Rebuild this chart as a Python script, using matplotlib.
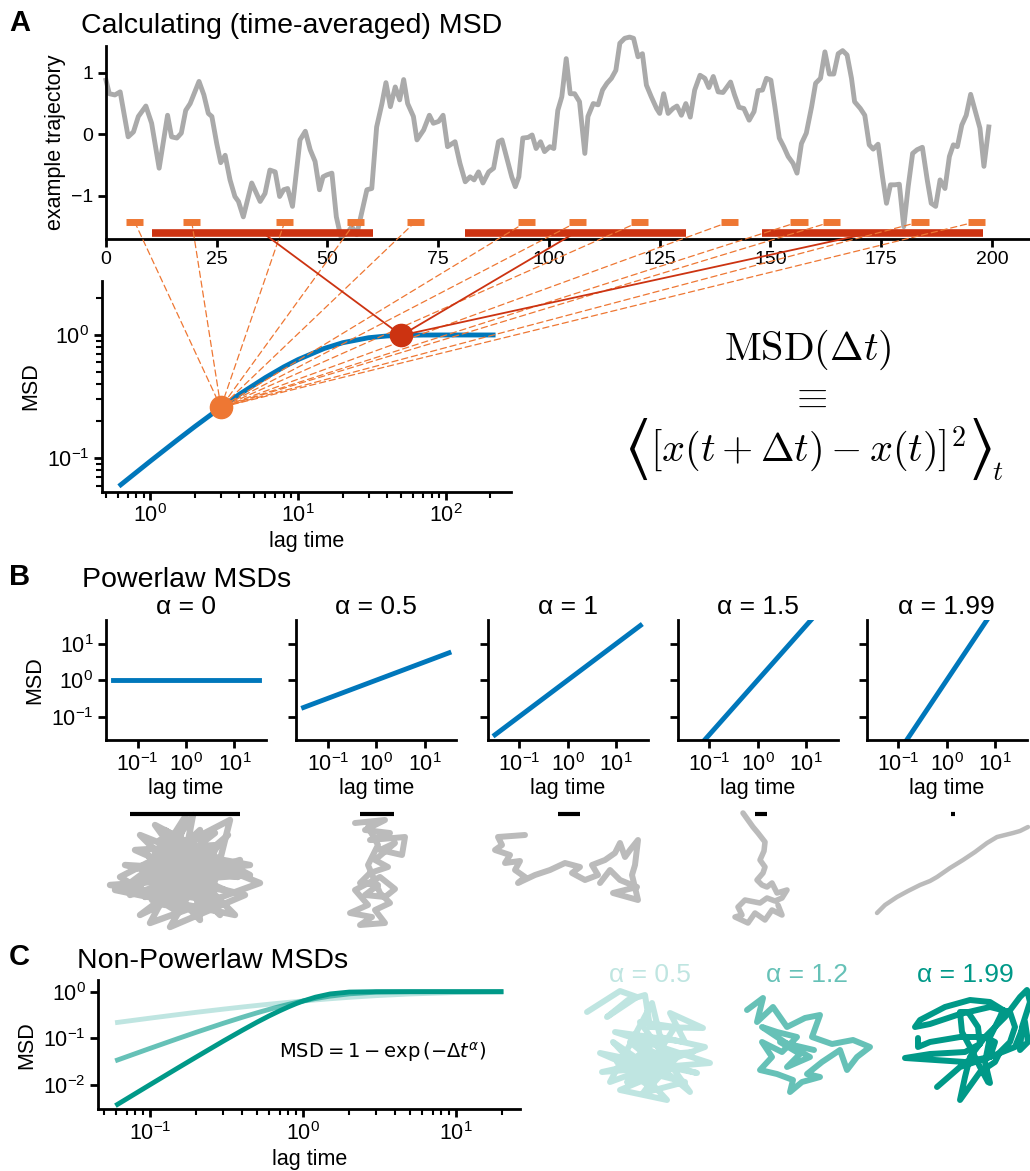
import matplotlib.pyplot as plt
from matplotlib.patches import ConnectionPatch
from matplotlib.ticker import NullLocator, NullFormatter

FIG_W, FIG_H = 1030, 1171

BLUE = '#0077BB'
ORANGE = '#EE7733'
RED = '#CC3311'
TEAL = '#009988'
GREY_TRAJ = '#AAAAAA'
GREY_WALK = '#BBBBBB'

# ---------------- A: example trajectory
traj_t = [0, 0.75, 2, 3.2, 5, 6.2, 7.3, 9, 10.3, 12,
          13.9, 14.8, 16, 17, 18, 19, 21, 22.1, 23.1, 23.9,
          25, 25.9, 26.9, 28, 29.1, 29.9, 31, 32.9, 34.8, 35.9,
          37, 38.2, 39.2, 40.1, 41, 42.1, 43.8, 45, 46.1, 47.2,
          48.2, 49, 49.8, 51, 52, 53, 54.4, 55.5, 56.6, 57.8,
          58.9, 60, 61.1, 62.3, 63.2, 64.2, 65.3, 66.3, 67.2, 68.1,
          69.4, 70.2, 71.7, 73, 73.9, 75.1, 76.1, 77.1, 78.8, 79.9,
          81.1, 82.2, 83.1, 84.1, 85.1, 86.4, 87.5, 88.6, 89.4, 90.5,
          91.6, 92.4, 93.2, 94.1, 95.3, 96.2, 97.1, 98.1, 99, 100.2,
          101.1, 102, 102.9, 103.9, 104.8, 105.8, 106.9, 108.1, 108.8, 110,
          111.1, 112.1, 113.1, 114.1, 115.1, 116, 117.1, 118.2, 119.1, 120.1,
          121.1, 122, 123.1, 124.3, 125, 125.9, 126.9, 128, 128.9, 129.9,
          130.9, 131.9, 132.9, 134.1, 135.2, 136.1, 137.1, 138.2, 139.3, 141,
          141.9, 142.9, 144, 145.2, 146.3, 147.2, 148.2, 149.1, 150.1, 151,
          152, 153, 154, 155.1, 156, 157, 158.1, 159.3, 160.2, 161.3,
          162.3, 163.3, 164.3, 165.3, 166.3, 167.3, 168.3, 169, 170.3, 171.3,
          172.3, 173.2, 174.3, 175.3, 176.2, 177.1, 178.1, 179.1, 180.1, 181.1,
          182.1, 183.1, 184.3, 185.4, 186.3, 187.3, 188.3, 189.4, 190.4, 191.3,
          192.2, 193.2, 194.2, 195.2, 196.2, 197.3, 198.2, 199.3]
traj_x = [0.88, 0.66, 0.64, 0.69, -0.04, 0.04, 0.29, 0.46, 0.18, -0.55,
          0.31, -0.04, -0.06, 0.02, 0.39, 0.50, 0.86, 0.64, 0.34, 0.29,
          -0.15, -0.46, -0.34, -0.74, -1.01, -1.09, -1.34, -0.79, -1.09, -0.96,
          -0.58, -0.61, -1.01, -0.90, -0.88, -1.17, -0.09, 0.05, -0.25, -0.44,
          -0.90, -0.69, -0.66, -0.63, -1.34, -1.66, -1.61, -1.50, -1.63, -1.25,
          -0.90, -0.88, 0.12, 0.50, 0.84, 0.45, 0.77, 0.56, 0.89, 0.50,
          0.29, -0.09, 0.07, 0.31, 0.18, 0.21, 0.31, -0.20, -0.12, -0.47,
          -0.77, -0.69, -0.74, -0.61, -0.79, -0.61, -0.55, -0.12, -0.09, -0.39,
          -0.69, -0.85, -0.69, -0.06, -0.05, -0.01, -0.23, -0.12, -0.28, -0.20,
          -0.23, 0.39, 0.61, 1.23, 0.66, 0.66, 0.53, -0.31, 0.29, 0.50,
          0.48, 0.72, 0.83, 0.91, 1.04, 1.48, 1.56, 1.58, 1.56, 1.26,
          1.31, 0.80, 0.61, 0.42, 0.34, 0.66, 0.34, 0.42, 0.46, 0.31,
          0.50, 0.28, 0.72, 0.96, 0.91, 0.76, 0.94, 0.69, 0.68, 0.85,
          0.64, 0.44, 0.42, 0.23, 0.37, 0.71, 0.72, 0.91, 0.88, 0.45,
          -0.06, -0.20, -0.36, -0.47, -0.63, -0.15, 0.02, 0.45, 0.83, 0.91,
          1.34, 0.98, 0.98, 1.31, 1.36, 1.29, 0.91, 0.53, 0.42, 0.31,
          -0.17, -0.24, -0.16, -0.69, -1.12, -0.82, -0.82, -0.81, -1.50, -0.85,
          -0.31, -0.25, -0.21, -0.74, -1.12, -1.17, -0.74, -0.88, -0.36, -0.17,
          -0.20, 0.15, 0.31, 0.65, 0.39, 0.10, -0.52, 0.12]

# windows used for the two highlighted lag times
short_starts = [4.5, 17.4, 38.4, 54.4, 67.9, 93, 104.5, 118.5, 138.8, 154.5, 161.9, 181.8, 194.5]
short_width = 3.9
short_level = -1.42
long_starts = [10.3, 81, 148]
long_width = 50
long_level = -1.595

# time-averaged MSD curve
lag_a = [0.63, 1, 1.5, 2, 3, 4, 6, 8, 10, 15, 20, 30, 40, 50, 70, 100, 150, 209]
msd_a = [0.061, 0.095, 0.139, 0.181, 0.259, 0.330, 0.451, 0.551, 0.632, 0.777,
         0.865, 0.950, 0.982, 0.993, 0.999, 1.0, 1.0, 1.0]
short_point = (3, 0.259)
long_point = (50, 0.993)

# ---------------- B: powerlaw MSDs
b_alphas = [0, 0.5, 1, 1.5, 1.99]
b_lag = [0.0316, 31.6]
b_msd = [[1.0, 1.0], [0.178, 5.62], [0.0316, 31.6], [0.00562, 178], [0.00103, 962]]
b_scalebar = [110, 34, 22, 12, 4]

walk_b0 = [(60, 60), (93, 10), (75, 105), (20, 72), (130, 15), (110, 95), (10, 80), (150, 70),
           (55, 20), (120, 110), (40, 30), (160, 78), (50, 118), (100, 25), (30, 90), (140, 55),
           (65, 100), (85, 12), (45, 75), (125, 85), (35, 45), (118, 40), (70, 122), (145, 90),
           (25, 60), (105, 65), (60, 35), (135, 110), (15, 85), (95, 50), (52, 95), (128, 30),
           (80, 80), (40, 110), (112, 75), (70, 45), (150, 60), (58, 70), (100, 115), (88, 35),
           (30, 78), (120, 58), (75, 88), (48, 50), (108, 100), (65, 25), (138, 72),
           (90, 65), (55, 48), (115, 28), (80, 55), (45, 92), (102, 78), (68, 58), (122, 100)]
walk_b1 = [(25, 18), (55, 15), (35, 25), (60, 28), (40, 35), (75, 32), (72, 50), (50, 45),
           (65, 38), (45, 55), (58, 62), (40, 68), (30, 78), (48, 80), (35, 90), (55, 92),
           (65, 84), (50, 72), (25, 85), (38, 100), (20, 108), (42, 112), (30, 120), (55, 118),
           (45, 105), (60, 98), (50, 88), (38, 60), (48, 40), (38, 22)]
walk_b2 = [(45, 30), (18, 32), (22, 40), (15, 45), (30, 50), (25, 58), (40, 56), (35, 65),
           (45, 72), (38, 78), (55, 70), (70, 65), (85, 58), (100, 62), (92, 68), (105, 75),
           (118, 70), (112, 60), (125, 55), (135, 48), (140, 38), (145, 52), (150, 45), (158, 35),
           (155, 60), (152, 70), (158, 95), (133, 88), (157, 82), (140, 75), (130, 65), (120, 78)]
walk_b3 = [(23, 8), (28, 15), (33, 22), (38, 28), (45, 37), (44, 46), (40, 55), (45, 62),
           (43, 68), (37, 75), (42, 80), (47, 82), (52, 78), (57, 88), (67, 85), (62, 93),
           (55, 96), (47, 93), (40, 98), (25, 95), (18, 102), (22, 110), (15, 112), (28, 118),
           (35, 108), (45, 115), (52, 105), (62, 110), (58, 100)]
walk_b4 = [(17, 108), (25, 100), (37, 92), (48, 86), (60, 80), (70, 76), (77, 72), (90, 63),
           (103, 55), (115, 47), (127, 38), (137, 32), (145, 30), (153, 28), (160, 26), (168, 22)]

# ---------------- C: non-powerlaw MSDs, 1 - exp(-t^alpha)
c_alphas = [0.5, 1.2, 1.99]
c_shades = [0.25, 0.6, 1.0]
c_lag = [0.061, 0.1, 0.15, 0.2, 0.3, 0.4, 0.5, 0.6, 0.7, 0.8, 0.9, 1.0, 1.2, 1.5, 2, 3, 5, 10, 19.6]
c_msd_05 = [0.219, 0.271, 0.321, 0.361, 0.422, 0.469, 0.507, 0.539, 0.567, 0.591,
            0.613, 0.632, 0.665, 0.706, 0.757, 0.823, 0.893, 0.958, 0.988]
c_msd_12 = [0.0342, 0.0611, 0.0975, 0.135, 0.210, 0.283, 0.353, 0.418, 0.479, 0.535,
            0.586, 0.632, 0.712, 0.803, 0.899, 0.976, 0.999, 1.0, 1.0]
c_msd_199 = [0.00382, 0.0102, 0.0227, 0.0398, 0.0871, 0.149, 0.223, 0.304, 0.388, 0.473,
             0.556, 0.632, 0.762, 0.894, 0.981, 1.0, 1.0, 1.0, 1.0]

walk_c0 = [(12, 30), (45, 9), (62, 15), (32, 35), (53, 18), (70, 13), (75, 45), (128, 46),
           (95, 31), (110, 60), (40, 50), (135, 81), (27, 90), (118, 70), (60, 75), (38, 60),
           (92, 118), (45, 108), (100, 85), (122, 91), (25, 71), (80, 95), (68, 111), (110, 100),
           (50, 85), (85, 55), (130, 65), (35, 100), (77, 21), (90, 75), (55, 60), (115, 110),
           (65, 40), (100, 45), (72, 88), (52, 100), (88, 65), (62, 92), (105, 72), (75, 105),
           (42, 80), (95, 95), (70, 62)]
walk_c1 = [(15, 28), (31, 16), (25, 40), (41, 25), (55, 45), (73, 36), (88, 33), (80, 55),
           (100, 62), (121, 58), (138, 65), (125, 75), (115, 88), (108, 68), (90, 80), (75, 92),
           (88, 95), (70, 100), (58, 110), (61, 98), (45, 92), (28, 88), (40, 75), (30, 60),
           (50, 70), (65, 55), (45, 50), (30, 45), (60, 65), (78, 75), (55, 85), (68, 72),
           (48, 60), (82, 68)]
walk_c2 = [(28, 56), (28, 65), (40, 60), (70, 55), (95, 55), (105, 60), (100, 75), (75, 80),
           (45, 78), (15, 76), (40, 72), (75, 70), (90, 62), (88, 45), (78, 30), (70, 30),
           (72, 50), (80, 65), (90, 85), (98, 100), (100, 101), (95, 80), (100, 55), (110, 35),
           (113, 28), (100, 20), (80, 18), (55, 25), (30, 38), (25, 45), (40, 42), (70, 32),
           (100, 25), (120, 30), (125, 45), (120, 60), (110, 70), (105, 80), (90, 90), (70, 118),
           (75, 95), (80, 75), (95, 55), (115, 35), (130, 15), (137, 8), (140, 20), (132, 45),
           (130, 68), (138, 60), (135, 40), (125, 65), (100, 75), (70, 85), (47, 105)]


def px_rect(left, top, right, bottom):
    return [left / FIG_W, 1 - bottom / FIG_H, (right - left) / FIG_W, (bottom - top) / FIG_H]


def fx(x):
    return x / FIG_W


def fy(y):
    return 1 - y / FIG_H


def walk_axes(left, top, width, height):
    ax = fig.add_axes(px_rect(left, top, left + width, top + height))
    ax.set_xlim(0, width)
    ax.set_ylim(height, 0)
    ax.axis('off')
    return ax


plt.rcParams['font.family'] = ['Liberation Sans', 'DejaVu Sans']
plt.rcParams.update({
    'axes.linewidth': 2,
    'axes.spines.top': False, 'axes.spines.right': False,
    'xtick.major.width': 2, 'ytick.major.width': 2,
    'xtick.minor.width': 1.5, 'ytick.minor.width': 1.5,
    'xtick.major.size': 5.5, 'ytick.major.size': 5.5,
    'xtick.minor.size': 4, 'ytick.minor.size': 4,
    'xtick.labelsize': 15.5, 'ytick.labelsize': 15.5,
    'axes.labelsize': 15.5,
})

fig = plt.figure(figsize=(FIG_W / 100, FIG_H / 100), dpi=100)

# ---------------- panel A, trajectory
ax_tr = fig.add_axes(px_rect(106, 45.7, 1030, 239))
ax_tr.plot(traj_t, traj_x, color=GREY_TRAJ, lw=3.5, clip_on=False, zorder=1)
for t0 in short_starts:
    ax_tr.plot([t0, t0 + short_width], [short_level] * 2, color=ORANGE, lw=5,
               solid_capstyle='butt', clip_on=False, zorder=3)
for t0 in long_starts:
    ax_tr.plot([t0, t0 + long_width], [long_level] * 2, color=RED, lw=5.5,
               solid_capstyle='butt', clip_on=False, zorder=3)
ax_tr.set_xlim(0, 208.6)
ax_tr.set_ylim(-1.70, 1.44)
ax_tr.set_xticks(range(0, 201, 25))
ax_tr.set_yticks([-1, 0, 1])
ax_tr.tick_params(labelsize=14)
ax_tr.set_ylabel('example trajectory')

# ---------------- panel A, MSD
ax_msd = fig.add_axes(px_rect(102, 281, 510.7, 491.7))
ax_msd.loglog(lag_a, msd_a, color=BLUE, lw=3.5, zorder=2)
ax_msd.plot(*short_point, 'o', ms=16, color=ORANGE, zorder=5)
ax_msd.plot(*long_point, 'o', ms=16, color=RED, zorder=5)
ax_msd.set_xlim(0.47, 275)
ax_msd.set_ylim(0.0536, 2.74)
ax_msd.xaxis.set_minor_formatter(NullFormatter())
ax_msd.yaxis.set_minor_formatter(NullFormatter())
ax_msd.set_xlabel('lag time', labelpad=3)
ax_msd.set_ylabel('MSD')

for t0 in short_starts:
    con = ConnectionPatch(xyA=(t0 + short_width / 2, short_level), coordsA=ax_tr.transData,
                          xyB=short_point, coordsB=ax_msd.transData,
                          color=ORANGE, lw=0.9, ls=(0, (5, 3)), zorder=3)
    ax_msd.add_artist(con)
    con.set_clip_on(False)
for t0 in long_starts:
    con = ConnectionPatch(xyA=(t0 + long_width / 2, long_level), coordsA=ax_tr.transData,
                          xyB=long_point, coordsB=ax_msd.transData,
                          color=RED, lw=1.3, zorder=3)
    ax_msd.add_artist(con)
    con.set_clip_on(False)

# definition of the MSD, written in Computer Modern
fig.text(fx(808), fy(360), r'$\mathrm{MSD}(\Delta t)$', fontsize=29, ha='center',
         va='baseline', math_fontfamily='cm')
fig.text(fx(808), fy(397), r'$\equiv$', fontsize=29, ha='center', va='center',
         math_fontfamily='cm')
fig.text(fx(808), fy(461), r'$\left[x(t+\Delta t)-x(t)\right]^2$',
         fontsize=29, ha='center', va='baseline', math_fontfamily='cm')
fig.text(fx(636), fy(449), r'$\langle$', fontsize=48, ha='center', va='center',
         math_fontfamily='stix')
fig.text(fx(980), fy(449), r'$\rangle$', fontsize=48, ha='center', va='center',
         math_fontfamily='stix')
fig.text(fx(992), fy(480), r'$t$', fontsize=20, ha='left', va='baseline',
         math_fontfamily='cm')

# ---------------- panel B
b_lefts = [106, 296.3, 487.7, 677.7, 866.7]
for i, (alpha, msd) in enumerate(zip(b_alphas, b_msd)):
    left = b_lefts[i]
    ax = fig.add_axes(px_rect(left, 620, left + 160, 740.3))
    ax.loglog(b_lag, msd, color=BLUE, lw=3.5)
    ax.set_xlim(0.0224, 44.7)
    ax.set_ylim(0.0224, 44.7)
    ax.set_xticks([0.1, 1, 10])
    ax.set_yticks([0.1, 1, 10])
    ax.xaxis.set_minor_locator(NullLocator())
    ax.yaxis.set_minor_locator(NullLocator())
    ax.set_title(f'α = {alpha:g}', fontsize=19, pad=4)
    ax.set_xlabel('lag time', labelpad=2)
    if i == 0:
        ax.set_ylabel('MSD')
    else:
        ax.tick_params(labelleft=False)

b_walks = [walk_b0, walk_b1, walk_b2, walk_b3, walk_b4]
b_walk_lefts = [100, 330, 480, 720, 860]
b_centres = [185, 377, 569, 761, 953]
b_walk_lw = [4.6, 4.3, 4.3, 4.0, 3.2]
for walk, left, centre, bar, lw in zip(b_walks, b_walk_lefts, b_centres, b_scalebar, b_walk_lw):
    ax = walk_axes(left, 805, 170, 125)
    wx, wy = zip(*walk)
    ax.plot(wx, wy, color=GREY_WALK, lw=lw, solid_joinstyle='round',
            solid_capstyle='round', clip_on=False)
    bc = centre - left
    ax.plot([bc - bar / 2, bc + bar / 2], [9, 9], color='black', lw=3,
            solid_capstyle='butt', clip_on=False)

# ---------------- panel C
ax_c = fig.add_axes(px_rect(98.3, 980, 520, 1109.3))
for msd, shade in zip([c_msd_05, c_msd_12, c_msd_199], c_shades):
    ax_c.loglog(c_lag, msd, color=TEAL, alpha=shade, lw=3.5)
ax_c.set_xlim(0.0457, 26.1)
ax_c.set_ylim(0.003, 1.78)
ax_c.set_yticks([0.01, 0.1, 1])
ax_c.yaxis.set_minor_locator(NullLocator())
ax_c.xaxis.set_minor_formatter(NullFormatter())
ax_c.set_xlabel('lag time', labelpad=3)
ax_c.set_ylabel('MSD')
ax_c.text(0.675, 0.44, r'$\mathrm{MSD} = 1 - \exp\left(-\Delta t^\alpha\right)$',
          transform=ax_c.transAxes, fontsize=14, ha='center', va='center',
          math_fontfamily='dejavusans')

c_walks = [walk_c0, walk_c1, walk_c2]
c_centres = [650, 807, 965]
for walk, centre, shade, alpha in zip(c_walks, c_centres, c_shades, c_alphas):
    ax = walk_axes(centre - 75, 982, 150, 125)
    wx, wy = zip(*walk)
    ax.plot(wx, wy, color=TEAL, alpha=shade, lw=4.3, solid_joinstyle='round',
            solid_capstyle='round', clip_on=False)
    fig.text(fx(centre), fy(982), f'α = {alpha:g}', fontsize=19, color=TEAL,
             alpha=shade, ha='center', va='baseline')

# ---------------- panel letters and titles
fig.text(fx(9), fy(31), 'A', fontsize=21, weight='bold', va='baseline')
fig.text(fx(81), fy(33), 'Calculating (time-averaged) MSD', fontsize=20.5, va='baseline')
fig.text(fx(9), fy(585), 'B', fontsize=21, weight='bold', va='baseline')
fig.text(fx(82), fy(587), 'Powerlaw MSDs', fontsize=20.5, va='baseline')
fig.text(fx(9), fy(965), 'C', fontsize=21, weight='bold', va='baseline')
fig.text(fx(77), fy(968), 'Non-Powerlaw MSDs', fontsize=20.5, va='baseline')

fig.savefig('out.png', dpi=100)
